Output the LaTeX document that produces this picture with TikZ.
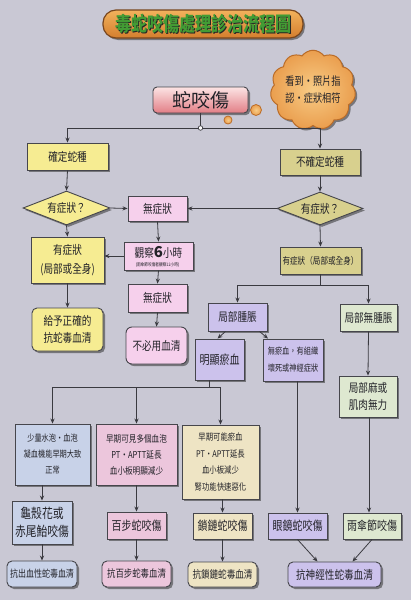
\documentclass[tikz,border=0pt]{standalone}
\usepackage{fontspec}
\newfontfamily\cjk[FakeStretch=0.8]{Noto Sans CJK TC}
\newfontfamily\cjkn{Noto Sans CJK TC}
\usetikzlibrary{shapes.geometric,shapes.symbols,arrows.meta,shadows}
\definecolor{bgc}{RGB}{201,200,212}
\definecolor{linec}{RGB}{58,58,64}
\definecolor{bordc}{RGB}{70,70,76}
\definecolor{txt}{RGB}{34,34,40}
\definecolor{cyel}{RGB}{246,236,146}
\definecolor{ckhaki}{RGB}{216,208,142}
\definecolor{cpink}{RGB}{246,208,236}
\definecolor{cpurp}{RGB}{204,194,236}
\definecolor{cgreen}{RGB}{222,232,208}
\definecolor{cblue}{RGB}{200,210,232}
\definecolor{cpinkb}{RGB}{236,198,220}
\definecolor{cbeige}{RGB}{238,228,196}
\definecolor{torA}{RGB}{242,178,92}
\definecolor{torB}{RGB}{212,126,46}
\definecolor{tbord}{RGB}{120,70,30}
\definecolor{tgreen}{RGB}{66,156,52}
\definecolor{corange}{RGB}{234,158,78}
\definecolor{clight}{RGB}{248,204,134}
\definecolor{cbord}{RGB}{186,108,40}
\definecolor{snA}{RGB}{252,228,228}
\definecolor{snB}{RGB}{226,126,134}
\tikzset{
  shad/.style={drop shadow={shadow xshift=2pt,shadow yshift=-2pt,opacity=0.55,fill=black!80}},
  box/.style={draw=bordc, line width=0.9pt, inner sep=0pt, align=center, text=txt,
    font=\cjk\fontsize{12}{17}\selectfont, shad},
  rbox/.style={box, rounded corners=5pt},
  sz/.style 2 args={minimum width=#1pt, minimum height=#2pt},
  fs/.style 2 args={font=\cjk\fontsize{#1}{#2}\selectfont},
  dia/.style={diamond, aspect=2.56, draw=bordc, line width=0.9pt, inner sep=0pt, text=txt,
    font=\cjk\fontsize{12}{17}\selectfont, shad},
  arr/.style={draw=linec, line width=0.8pt, -{Stealth[length=5pt,width=4.2pt]}},
  ln/.style={draw=linec, line width=0.8pt},
}
\begin{document}
\begin{tikzpicture}[x=1pt,y=-1pt]
\fill[bgc] (0,0) rectangle (411,600);
\useasboundingbox (0,0) rectangle (411,600);

% title
\node[draw=tbord, line width=1.2pt, rounded corners=13pt, top color=torA, bottom color=torB,
  sz={200}{28}, inner sep=0pt, shad] (title) at (203,24) {};
\node[text=black!85, font=\cjk\bfseries\fontsize{20}{22}\selectfont] (titleshadow) at (204.3,25.3) {毒蛇咬傷處理診治流程圖};
\node[text=tgreen, font=\cjk\bfseries\fontsize{20}{22}\selectfont] (titletext) at (203,24) {毒蛇咬傷處理診治流程圖};

% cloud
\node[cloud, cloud puffs=11, cloud puff arc=110, aspect=1.1, draw=cbord, line width=1pt,
  inner color=clight, outer color=corange, minimum width=72pt, minimum height=64pt,
  inner sep=0pt, align=center, text=txt, fs={11.5}{17}, shad] (cloud) at (313,90) {看到・照片指\\認・症狀相符};
\node[circle, draw=cbord, line width=0.8pt, inner color=clight, outer color=corange, minimum size=11pt, inner sep=0pt] (bub1) at (256,110) {};
\node[circle, draw=cbord, line width=0.8pt, inner color=clight, outer color=corange, minimum size=8pt, inner sep=0pt] (bub2) at (228,120) {};

% top
\node[box, rounded corners=4pt, top color=snA, bottom color=snB, sz={95}{26}, font=\cjkn\fontsize{19}{22}\selectfont] (bite) at (200.5,100) {蛇咬傷};
\coordinate (j) at (200.5,128);

\node[box, fill=cyel, sz={81}{27}] (k1) at (67.5,156.5) {確定蛇種};
\node[box, fill=ckhaki, sz={80}{26}] (k2) at (320,162) {不確定蛇種};
\node[dia, fill=cyel, minimum width=87pt, minimum height=34pt] (d1) at (66.5,208) {有症狀？};
\node[dia, fill=ckhaki, minimum width=86pt, minimum height=33pt] (d2) at (320,208.5) {有症狀？};
\node[box, fill=cpink, sz={59}{25}] (n1) at (157.5,208.5) {無症狀};
\node[box, fill=cyel, sz={73}{46}, fs={12}{19}] (sL) at (67.5,260) {有症狀\\(局部或全身)};
\node[box, fill=cpink, sz={69}{28}] (obs) at (158.5,256) {};
\node[text=txt, font=\cjk\fontsize{12}{14}\selectfont, inner sep=0pt] (obsT) at (158.5,252.5) {觀察{\cjkn\bfseries\fontsize{15}{15}\selectfont 6}小時};
\node[text=txt, font=\cjk\fontsize{4.6}{5}\selectfont, inner sep=0pt] (obsS) at (157.5,265) {(雨傘節咬傷者觀察12小時)};
\node[box, fill=ckhaki, sz={81}{27}, fs={9.5}{12}] (sR) at (320.5,260.5) {有症狀（局部或全身）};
\node[rbox, fill=cyel, sz={71}{43}] (give) at (67.5,329.5) {給予正確的\\抗蛇毒血清};
\node[box, fill=cpink, sz={59}{28}] (n2) at (157.5,298) {無症狀};
\node[rbox, rounded corners=6pt, fill=cpink, sz={61}{37}] (nos) at (156.5,345.5) {不必用血清};

\node[box, fill=cpurp, sz={59}{28}] (sw) at (237.5,317) {局部腫脹};
\node[box, fill=cgreen, sz={57}{27}] (nsw) at (368.5,317.5) {局部無腫脹};
\node[box, fill=cpurp, sz={49}{41}, fs={12.5}{17}] (br) at (219.5,359.5) {明顯瘀血};
\node[box, fill=cpurp, sz={60}{42}, fs={9}{17}] (nb) at (293,360) {無瘀血，有組織\\壞死或神經症狀};
\node[box, fill=cgreen, sz={58}{41}] (nm) at (368,396.5) {局部麻或\\肌肉無力};

\node[box, fill=cblue, sz={75}{61}, fs={9}{16}] (sm) at (52.5,454.5) {少量水泡・血泡\\凝血機能早期大致\\正常};
\node[box, fill=cpinkb, sz={81}{61}, fs={9.5}{16}] (ea1) at (136.5,454.5) {早期可見多個血泡\\PT・APTT延長\\血小板明顯減少};
\node[box, fill=cbeige, sz={77}{74}, fs={9.2}{16.5}] (ea2) at (220.5,462) {早期可能瘀血\\PT・APTT延長\\血小板減少\\腎功能快速惡化};

\node[box, fill=cblue, sz={60}{43}, fs={13.5}{18}] (tu) at (42,522.5) {龜殼花或\\赤尾鮐咬傷};
\node[box, fill=cpinkb, sz={59}{27}, fs={12.5}{15}] (bp) at (136.5,525.5) {百步蛇咬傷};
\node[box, fill=cbeige, sz={59}{26}, fs={12.5}{15}] (ch) at (222.5,526) {鎖鏈蛇咬傷};
\node[box, fill=cpurp, sz={59}{26}, fs={12.5}{15}] (co) at (297.5,526) {眼鏡蛇咬傷};
\node[box, fill=cgreen, sz={58}{26}, fs={12.5}{15}] (um) at (372,526) {雨傘節咬傷};

\node[rbox, fill=cblue, sz={70}{26}, fs={10}{12}] (a1) at (42,574) {抗出血性蛇毒血清};
\node[rbox, fill=cpinkb, sz={69}{26}, fs={10.5}{12}] (a2) at (136.5,574) {抗百步蛇毒血清};
\node[rbox, fill=cbeige, sz={69}{25}, fs={10.7}{12}] (a3) at (222.5,574.5) {抗鎖鏈蛇毒血清};
\node[rbox, fill=cpurp, sz={93}{25}, fs={12}{14}] (a4) at (334.5,574.5) {抗神經性蛇毒血清};

% connectors
\draw[ln] (bite.south) -- (j);
\draw[arr] (j) -| (k1.north);
\draw[arr] (j) -| (k2.north);
\node[circle, draw=linec, fill=white, line width=0.7pt, minimum size=4.5pt, inner sep=0pt] (jdot) at (j) {};
\draw[arr] (k1.south) -- (d1.north);
\draw[arr] (k2.south) -- (d2.north);
\draw[arr] (d1.east) -- (n1.west);
\draw[arr] (d2.west) -- (n1.east);
\draw[arr] (d1.south) -- (sL.north);
\draw[arr] (d2.south) -- (sR.north);
\draw[arr] (n1.south) -- (obs.north);
\draw[arr] (obs.west) -- (obs.west -| sL.east);
\draw[arr] (obs.south) -- (n2.north);
\draw[arr] (n2.south) -- (nos.north);
\draw[arr] (sL.south) -- (give.north);
\coordinate (sRb) at (320.5,285);
\draw[ln] (sR.south) -- (sRb);
\draw[arr] (sRb) -| (sw.north);
\draw[arr] (sRb) -| (nsw.north);
\draw[arr] ([xshift=-12pt]sw.south) -- ([xshift=-2pt]br.north);
\draw[arr] ([xshift=22pt]sw.south) -- ([xshift=-25pt]nb.north);
\draw[arr] (nsw.south) -- (nm.north);
\coordinate (brb) at (209,387);
\draw[ln] ([xshift=-10.5pt]br.south) -- (brb);
\draw[arr] (brb) -| (sm.north);
\draw[arr] (brb) -| (ea1.north);
\draw[arr] (brb) -| (ea2.north);
\draw[arr] (sm.south -| tu.north) -- (tu.north);
\draw[arr] (tu.south) -- (a1.north);
\draw[arr] (ea1.south) -- (bp.north);
\draw[arr] (bp.south) -- (a2.north);
\draw[arr] (ea2.south -| ch.north) -- (ch.north);
\draw[arr] (ch.south) -- (a3.north);
\draw[arr] (nb.south -| co.north) -- (co.north);
\coordinate (umx) at (369,0);
\draw[arr] (nm.south -| umx) -- (umx |- um.north);
\draw[arr] (co.south) -- ([xshift=-17pt]a4.north);
\draw[arr] (um.south) -- ([xshift=18pt]a4.north);
\end{tikzpicture}
\end{document}
